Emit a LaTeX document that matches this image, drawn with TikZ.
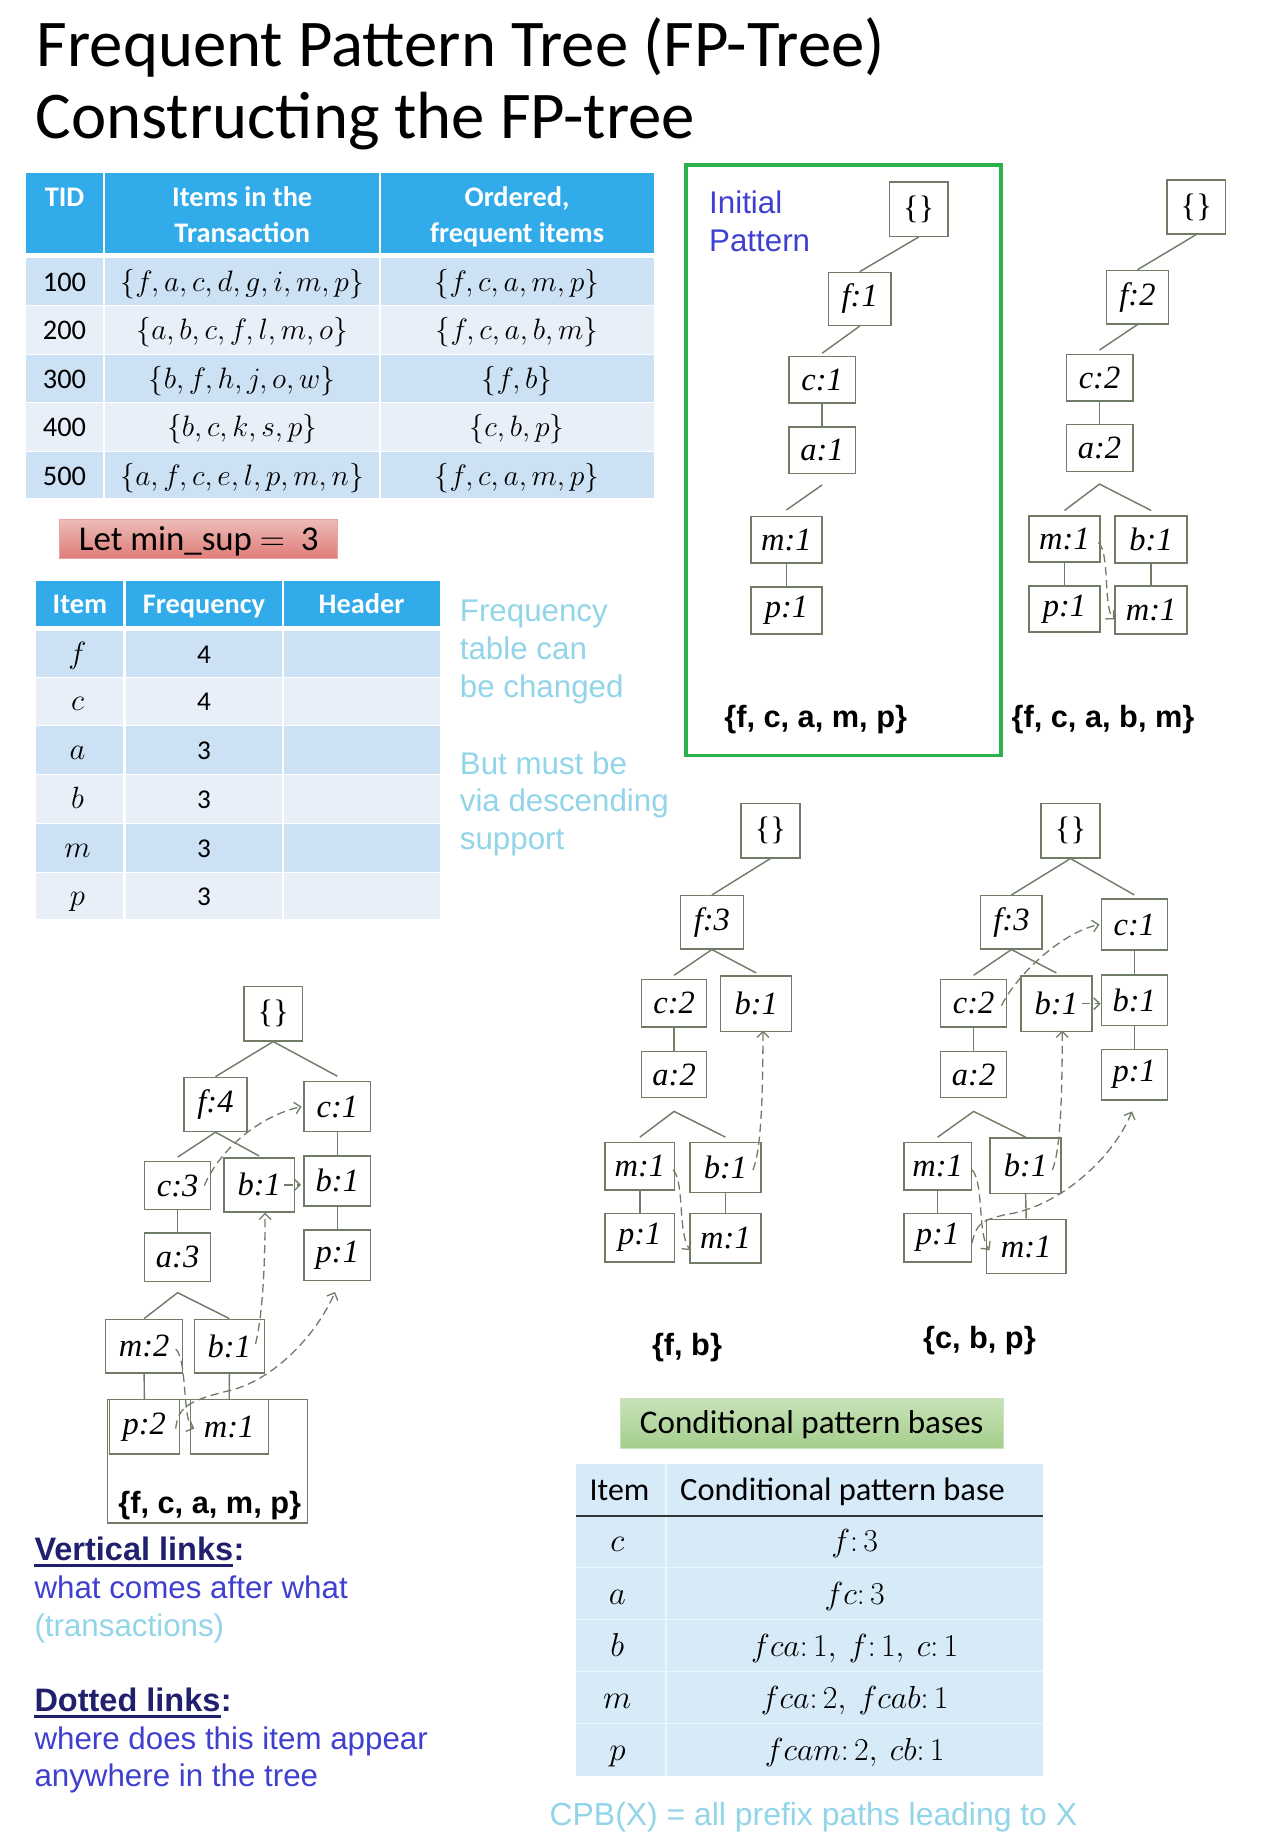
\RequirePackage{fix-cm}
\documentclass[tikz,border=0pt]{standalone}
\usepackage{fontspec}
\setmainfont{Carlito}
\newfontfamily\arialf{Liberation Sans}
\newfontfamily\timesf{Liberation Serif}
\usetikzlibrary{arrows.meta,calc}
\definecolor{hdrblue}{RGB}{49,171,233}
\definecolor{rowdark}{RGB}{204,225,244}
\definecolor{rowlight}{RGB}{232,239,249}
\definecolor{cyantxt}{RGB}{146,213,233}
\definecolor{bluetxt}{RGB}{64,64,208}
\definecolor{navytxt}{RGB}{32,32,110}
\definecolor{treegray}{RGB}{112,124,102}
\definecolor{greenframe}{RGB}{44,178,74}
\definecolor{cpbbg}{RGB}{214,234,248}
\definecolor{redtop}{RGB}{236,188,184}
\definecolor{redbot}{RGB}{224,124,120}
\definecolor{grntop}{RGB}{200,226,184}
\definecolor{grnbot}{RGB}{164,206,140}
\newcommand\fsz[1]{\fontsize{#1}{#1}\selectfont}
\newcommand\treenode[6]{%
  \pgfmathsetmacro\cxx{(#2+#4)/2}\pgfmathsetmacro\cyy{(#3+#5)/2}%
  \pgfmathsetmacro\ww{#4-#2}\pgfmathsetmacro\hh{#5-#3}%
  \node[tn,minimum width=\ww pt,minimum height=\hh pt] (#1) at (\cxx,\cyy) {#6};}
\tikzset{
  tn/.style={draw=treegray, line width=1.2pt, inner sep=0pt, font=\timesf\itshape\fsz{27.5}},
  lnk/.style={draw=treegray, line width=1.2pt},
  dl/.style={draw=treegray, line width=1.1pt, dash pattern=on 7pt off 4pt,
     -{Straight Barb[length=5pt,width=10pt,line width=1.1pt]}},
  txt/.style={inner sep=0pt, anchor=base west},
  ctxt/.style={inner sep=0pt, anchor=base},
  hdr/.style={ctxt, text=white, font=\bfseries\fsz{24}},
  body/.style={ctxt, font=\fsz{24}},
  cyan/.style={txt, text=cyantxt, font=\arialf\fsz{26.5}},
  blue/.style={txt, text=bluetxt, font=\arialf\fsz{26.5}},
  navy/.style={txt, text=navytxt, font=\arialf\bfseries\fsz{27.5}},
  setlbl/.style={txt, font=\arialf\bfseries\fsz{26}},
}
\begin{document}
\begin{tikzpicture}[x=1pt,y=-1pt]
\path[use as bounding box, fill=white] (0,0) rectangle (1080,1564);

% ---------- Title ----------
\node[txt, font=\fsz{56.5}] (title1) at (31,56) {Frequent Pattern Tree (FP-Tree)};
\node[txt, font=\fsz{56.5}] (title2) at (30,117) {Constructing the FP-tree};

% ---------- Transaction table ----------
\fill[hdrblue] (22,146.2) rectangle (553.4,214.4);
\fill[rowdark]  (22,218.6) rectangle (553.4,258.2);
\fill[rowlight] (22,259.2) rectangle (553.4,299.2);
\fill[rowdark]  (22,300.2) rectangle (553.4,340.0);
\fill[rowlight] (22,341.0) rectangle (553.4,381.3);
\fill[rowdark]  (22,382.3) rectangle (553.4,421.8);
\draw[white, line width=2pt] (88.2,146) -- (88.2,422) (321.8,146) -- (321.8,422);
\node[hdr] (h1) at (54.6,175) {TID};
\node[hdr] (h2a) at (205,175) {Items in the};
\node[hdr] (h2b) at (205,205) {Transaction};
\node[hdr] (h3a) at (437.6,175) {Ordered,};
\node[hdr] (h3b) at (437.6,205) {frequent items};
\foreach \tid/\yy/\sa/\sb in {
   100/247/{f,a,c,d,g,i,m,p}/{f,c,a,m,p},
   200/287.5/{a,b,c,f,l,m,o}/{f,c,a,b,m},
   300/328.5/{b,f,h,j,o,w}/{f,b},
   400/369.5/{b,c,k,s,p}/{c,b,p},
   500/410.5/{a,f,c,e,l,p,m,n}/{f,c,a,m,p}}{
  \node[body] (tid\tid) at (54.6,\yy) {\tid};
  \node[body, font=\fsz{25}] (it\tid) at (205,\yy) {$\{\sa\}$};
  \node[body, font=\fsz{25}] (of\tid) at (437.6,\yy) {$\{\sb\}$};
}

% ---------- min_sup ----------
\node[draw=redbot!70!white, line width=0.8pt, top color=redtop, bottom color=redbot,
      minimum width=235.6pt, minimum height=33pt, inner sep=0pt] (minsupbox) at (168.2,456.1) {};
\node[ctxt, font=\fsz{29.5}] (minsup) at (168.2,465.5) {Let min\_sup\ $=$\ \ 3};

% ---------- Frequency table ----------
\fill[hdrblue] (30.2,491.5) rectangle (372.4,529.6);
\fill[rowdark]  (30.2,534.0) rectangle (372.4,572.7);
\fill[rowlight] (30.2,573.6) rectangle (372.4,613.9);
\fill[rowdark]  (30.2,614.8) rectangle (372.4,655.3);
\fill[rowlight] (30.2,656.2) rectangle (372.4,696.5);
\fill[rowdark]  (30.2,697.4) rectangle (372.4,737.7);
\fill[rowlight] (30.2,738.6) rectangle (372.4,777.8);
\draw[white, line width=2pt] (105.5,491) -- (105.5,778) (239.7,491) -- (239.7,778);
\node[hdr] (fh1) at (67.6,519) {Item};
\node[hdr] (fh2) at (172.6,519) {Frequency};
\node[hdr] (fh3) at (306,519) {Header};
\foreach \it/\fr/\yy in {f/4/561.4, c/4/601.7, a/3/643, b/3/684.4, m/3/725.5, p/3/766.2}{
  \node[ctxt, font=\fsz{26}] (fi\it) at (65.6,\yy) {$\it$};
  \node[body, font=\fsz{23}] (ff\it) at (172.6,\yy) {\fr};
}

% ---------- Cyan notes ----------
\node[cyan] (n1) at (389,526.2) {Frequency};
\node[cyan] (n2) at (389,558.4) {table can};
\node[cyan] (n3) at (389,590.2) {be changed};
\node[cyan] (n4) at (389,655.1) {But must be};
\node[cyan] (n5) at (389,686.9) {via descending};
\node[cyan] (n6) at (389,718.6) {support};

% ---------- Green frame, initial tree ----------
\draw[greenframe, line width=3.3pt] (580.4,139.3) rectangle (847.2,639.4);
\node[blue] (ip1) at (600,181) {Initial};
\node[blue] (ip2) at (600,213) {Pattern};

\treenode{t1r}{752.6}{154}{802.4}{200}{\upshape\{\}}
\treenode{t1f}{701.2}{230.5}{754}{275.4}{f:1}
\treenode{t1c}{667.6}{301.5}{724}{341.1}{c:1}
\treenode{t1a}{667.6}{361.4}{724}{400.8}{a:1}
\treenode{t1m}{635.5}{437.2}{695.6}{476.5}{m:1}
\treenode{t1p}{635.5}{496.8}{695.6}{536.4}{p:1}
\draw[lnk] (t1r.south) -- (t1f.north);
\draw[lnk] (t1f.south) -- ($(t1c.north)+(0,-2)$);
\draw[lnk] (t1c.south) -- (t1a.north);
\draw[lnk] ($(t1a.south)+(0,9)$) -- ($(t1m.north)+(0,-5)$);
\draw[lnk] (t1m.south) -- (t1p.north);
\node[setlbl] (l1) at (612.8,615.6) {\{f, c, a, m, p\}};

% ---------- Tree 2 ----------
\treenode{t2r}{987.6}{152.3}{1037.2}{197.9}{\upshape\{\}}
\treenode{t2f}{936.3}{228.9}{989}{274.1}{f:2}
\treenode{t2c}{902.4}{299.8}{958.7}{339.5}{c:2}
\treenode{t2a}{902.4}{359.4}{958.7}{399.1}{a:2}
\treenode{t2m}{870.8}{436.6}{931}{475.6}{m:1}
\treenode{t2b}{943.7}{436.6}{1004.7}{476.6}{b:1}
\treenode{t2p}{870.8}{495.8}{931}{534.9}{p:1}
\treenode{t2mm}{943.7}{495.8}{1004.7}{536.4}{m:1}
\draw[lnk] (t2r.south) -- (t2f.north);
\draw[lnk] (t2f.south) -- ($(t2c.north)+(0,-3)$);
\draw[lnk] (t2c.south) -- (t2a.north);
\coordinate (t2ap) at ($(t2a.south)+(0,10)$);
\draw[lnk] ($(t2m.north)+(0,-4)$) -- (t2ap) -- ($(t2b.north)+(0,-4)$);
\draw[lnk] (t2m.south) -- (t2p.north);
\draw[lnk] (t2b.south) -- (t2mm.north);
\draw[dl] ($(t2m.east)+(-2,3)$) .. controls +(10,9) and +(-9.7,-9.1) .. ($(t2mm.west)+(0,8)$);
\node[setlbl] (l2) at (856,615.6) {\{f, c, a, b, m\}};

% ---------- Tree 3 ----------
\treenode{t3r}{627}{680}{677}{726}{\upshape\{\}}
\treenode{t3f}{576}{758}{629}{803}{f:3}
\treenode{t3c}{543}{829}{598}{869}{c:2}
\treenode{t3b}{610}{826}{670}{873}{b:1}
\treenode{t3a}{543}{890}{598}{929}{a:2}
\treenode{t3m}{512}{967}{571}{1007}{m:1}
\treenode{t3bb}{584}{967}{644}{1009}{b:1}
\treenode{t3p}{512}{1027}{571}{1068}{p:1}
\treenode{t3mm}{584}{1027}{644}{1069}{m:1}
\draw[lnk] (t3r.south) -- (t3f.north);
\draw[lnk] ($(t3c.north)+(0,-3)$) -- (t3f.south) -- ($(t3b.north)+(0,-2)$);
\draw[lnk] (t3c.south) -- (t3a.north);
\coordinate (t3ap) at ($(t3a.south)+(0,11)$);
\draw[lnk] ($(t3m.north)+(0,-4)$) -- (t3ap) -- ($(t3bb.north)+(0,-4)$);
\draw[lnk] (t3m.south) -- (t3p.north);
\draw[lnk] (t3bb.south) -- (t3mm.north);
\draw[dl] ($(t3m.east)+(-2,3)$) .. controls +(10,10) and +(-11,-13) .. ($(t3mm.west)+(1,10)$);
\draw[dl] ($(t3bb.east)+(-7.4,2.3)$) .. controls +(6,-15) and +(0,68) .. ($(t3b.south)+(5.7,-1.4)$);
\node[setlbl] (l3) at (551.6,1146.8) {\{f, b\}};

% ---------- Tree 4 ----------
\treenode{t4r}{881}{680}{931}{726}{\upshape\{\}}
\treenode{t4f}{830}{758}{882}{803}{f:3}
\treenode{t4cc}{932}{761}{988}{804}{c:1}
\treenode{t4c}{796}{829}{852}{869}{c:2}
\treenode{t4b}{864}{826}{924}{873}{b:1}
\treenode{t4bc}{932}{825}{988}{868}{b:1}
\treenode{t4pc}{932}{888}{988}{931}{p:1}
\treenode{t4a}{796}{890}{852}{929}{a:2}
\treenode{t4m}{765}{967}{822}{1007}{m:1}
\treenode{t4bb}{838}{963}{898}{1010}{b:1}
\treenode{t4p}{765}{1027}{822}{1068}{p:1}
\treenode{t4mm}{835}{1032}{902}{1078}{m:1}
\draw[lnk] (t4f.north) -- (t4r.south) -- ($(t4cc.north)+(0,-3)$);
\draw[lnk] ($(t4c.north)+(0,-3)$) -- (t4f.south) -- ($(t4b.north)+(0,-2)$);
\draw[lnk] (t4cc.south) -- (t4bc.north);
\draw[lnk] (t4bc.south) -- (t4pc.north);
\draw[lnk] (t4c.south) -- (t4a.north);
\coordinate (t4ap) at ($(t4a.south)+(0,11)$);
\draw[lnk] ($(t4m.north)+(0,-4)$) -- (t4ap) -- (t4bb.north);
\draw[lnk] (t4m.south) -- (t4p.north);
\draw[lnk] (t4bb.south) -- (t4mm.north);
\draw[dl] ($(t4c.east)+(-5,2)$) .. controls +(14,-28) and +(-30,6) .. ($(t4cc.west)+(-1,0)$);
\draw[dl] ($(t4b.east)+(-9,0)$) -- ($(t4bc.west)+(0,3)$);
\draw[dl] ($(t4bb.east)+(-8,3.8)$) .. controls +(6,-15) and +(0,68) .. ($(t4b.south)+(5,-1.4)$);
\draw[dl] ($(t4m.east)+(0,3)$) .. controls +(10,10) and +(-10,-13) .. ($(t4mm.west)+(3,3)$);
\draw[dl] ($(t4p.east)+(0,4.5)$) .. controls +(4,-17) and +(-20,5) .. ++(28,-24)
      .. controls +(45,-6) and +(-16,40) .. ($(t4pc.south)+(-2,9)$);
\node[setlbl] (l4) at (781,1141.2) {\{c, b, p\}};

% ---------- Tree 5 ----------
\treenode{t5r}{206.5}{834.7}{255.9}{880.9}{\upshape\{\}}
\treenode{t5f}{155.7}{911.8}{209}{957.6}{f:4}
\treenode{t5cc}{257.3}{915.4}{313.7}{957.6}{c:1}
\treenode{t5c}{122.4}{982.9}{178.3}{1023.8}{c:3}
\treenode{t5b}{189.6}{979.9}{249.1}{1025.7}{b:1}
\treenode{t5bc}{257.3}{978.3}{313.7}{1020.5}{b:1}
\treenode{t5a}{122.4}{1043.4}{178.3}{1084.4}{a:3}
\treenode{t5pc}{257.3}{1041}{313.7}{1083.8}{p:1}
\treenode{t5m}{89.4}{1116.5}{154.6}{1162}{m:2}
\treenode{t5bb}{164.5}{1116.5}{223.7}{1162}{b:1}
\draw[treegray, line width=1.2pt] (90.8,1184.6) rectangle (260,1289);
\treenode{t5p}{92.5}{1184.6}{151.8}{1230.4}{p:2}
\treenode{t5mm}{161}{1184.6}{227}{1230.4}{m:1}
\draw[lnk] (t5f.north) -- (t5r.south) -- ($(t5cc.north)+(0,-4)$);
\draw[lnk] ($(t5c.north)+(0,-3)$) -- (t5f.south) -- ($(t5b.north)+(0,-1)$);
\draw[lnk] (t5cc.south) -- (t5bc.north);
\draw[lnk] (t5bc.south) -- (t5pc.north);
\draw[lnk] (t5c.south) -- (t5a.north);
\coordinate (t5ap) at ($(t5a.south)+(0,9)$);
\draw[lnk] (t5m.north) -- (t5ap) -- (t5bb.north);
\draw[lnk] (t5m.south) -- (t5p.north);
\draw[lnk] (t5bb.south) -- (t5mm.north);
\draw[dl] ($(t5c.east)+(-6,0)$) .. controls +(14,-32) and +(-35,8) .. ($(t5cc.west)+(-1.5,0)$);
\draw[dl] ($(t5b.east)+(-9,0)$) -- ($(t5bc.west)+(-2,3.4)$);
\draw[dl] ($(t5bb.east)+(-8,-2)$) .. controls +(6,-25) and +(0,45) .. ($(t5b.south)+(5,0)$);
\draw[dl] ($(t5m.east)+(-6.5,2.5)$) .. controls +(10,8.3) and +(-10,-4) .. ($(t5mm.west)+(4,1.5)$);
\draw[dl] ($(t5p.east)+(-3.7,1.5)$) .. controls +(2,-19) and +(-35,8.5) .. ++(47,-32.5)
      .. controls +(40,-10.5) and +(-13.5,32) .. ($(t5pc.south)+(-2,9)$);
\node[setlbl] (l5) at (100,1281) {\{f, c, a, m, p\}};

% ---------- Legend texts ----------
\node[navy] (vl) at (29,1321) {Vertical links};
\node[navy, anchor=base west] (vlc) at (vl.base east) {:};
\draw[navytxt, line width=2.4pt] ($(vl.base west)+(0,4)$) -- ($(vl.base east)+(0,4)$);
\node[blue] (vl1) at (29,1352.8) {what comes after what};
\node[cyan] (vl2) at (29,1384.7) {(transactions)};
\node[navy] (dl) at (29,1448.7) {Dotted links};
\node[navy, anchor=base west] (dlc) at (dl.base east) {:};
\draw[navytxt, line width=2.4pt] ($(dl.base west)+(0,4)$) -- ($(dl.base east)+(0,4)$);
\node[blue] (dl1) at (29,1480.6) {where does this item appear};
\node[blue] (dl2) at (29,1512.2) {anywhere in the tree};

% ---------- Conditional pattern bases ----------
\node[draw=grnbot!60!white, line width=0.8pt, top color=grntop, bottom color=grnbot,
      minimum width=324.4pt, minimum height=42.3pt, inner sep=0pt] (cpbbox) at (687,1204.65) {};
\node[ctxt, font=\fsz{28}] (cpbt) at (687,1213.2) {Conditional pattern bases};
\fill[cpbbg] (487.5,1239.1) rectangle (883,1502.9);
\draw[white!55!cpbbg, line width=1pt] (563.7,1239.1) -- (563.7,1502.9);
\foreach \yy in {1326.6,1370.6,1414.9,1458.6}{
  \draw[white!55!cpbbg, line width=1pt] (487.5,\yy) -- (883,\yy);
}
\draw[black!80, line width=1.8pt] (487.5,1282.8) -- (883,1282.8);
\node[txt, font=\fsz{27}] (ch1) at (498.8,1270.2) {Item};
\node[txt, font=\fsz{27.5}] (ch2) at (575.5,1270.2) {Conditional pattern base};
\foreach \it/\cp/\yy in {c/{f\colon 3}/1313.3, a/{fc\colon 3}/1357.6,
   b/{fca\colon 1,\ f\colon 1,\ c\colon 1}/1402.2,
   m/{fca\colon 2,\ fcab\colon 1}/1445.9, p/{fcam\colon 2,\ cb\colon 1}/1489.6}{
  \node[ctxt, font=\fsz{28}] (ci\it) at (522.5,\yy) {$\it$};
  \node[ctxt, font=\fsz{27}] (cv\it) at (723.4,\yy) {$\cp$};
}
\node[txt, text=cyantxt, font=\arialf\fsz{27}] (cpbx) at (465,1544.6) {CPB(X) = all prefix paths leading to X};
\end{tikzpicture}
\end{document}
